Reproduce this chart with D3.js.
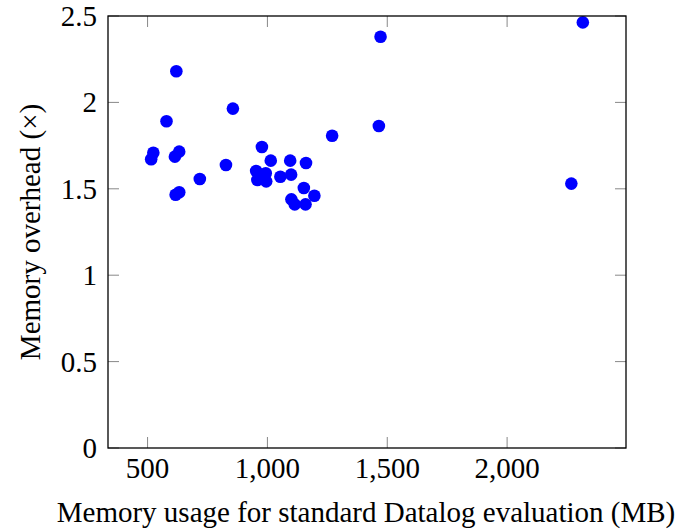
<!DOCTYPE html>
<html>
<head>
<meta charset="utf-8">
<script src="https://cdn.jsdelivr.net/npm/d3@7"></script>
<style>
  html, body { margin: 0; padding: 0; background: #fff; }
  svg text { font-family: "Liberation Serif", "DejaVu Serif", serif; fill: #000; }
</style>
</head>
<body>
<svg id="chart" width="678" height="530"></svg>
<script>
// Memory usage of standard evaluation (MB) vs. memory overhead factor
const memoryMB = [620, 856, 579, 977, 524, 515, 632, 614, 1014, 1095, 827, 718,
                  953, 993, 958, 995, 1054, 1099, 632, 617, 1100, 1114, 1270, 1161,
                  1152, 1196, 1159, 2316, 1472, 1465, 2268];
const overhead = [2.18, 1.964, 1.891, 1.742, 1.709, 1.671, 1.715, 1.686, 1.663, 1.663, 1.638, 1.557,
                  1.603, 1.590, 1.551, 1.543, 1.570, 1.582, 1.480, 1.466, 1.439, 1.410, 1.807, 1.649,
                  1.505, 1.460, 1.410, 2.463, 2.380, 1.863, 1.530];
const xTicks = [500, 1000, 1500, 2000];
const yTicks = [0, 0.5, 1, 1.5, 2, 2.5];
const xTitle = "Memory usage for standard Datalog evaluation (MB)";
const yTitle = "Memory overhead (\u00D7)";

const svg = d3.select("#chart");
const plotL = 108, plotR = 626, plotT = 16, plotB = 448;

// x range padded by 10% of the data span on each side
const [xmin, xmax] = d3.extent(memoryMB);
const pad = (xmax - xmin) * 0.1;
const x = d3.scaleLinear().domain([xmin - pad, xmax + pad]).range([plotL, plotR]);
const y = d3.scaleLinear().domain([0, 2.5]).range([plotB, plotT]);

const fmt = d3.format(",");
const tickLen = 11;

// inner ticks on all four sides
const tickColor = "#888";
const g = svg.append("g");
g.append("g").selectAll("line").data(xTicks).join("line")
  .attr("x1", d => x(d)).attr("x2", d => x(d))
  .attr("y1", plotB).attr("y2", plotB - tickLen)
  .attr("stroke", tickColor).attr("stroke-width", 1);
g.append("g").selectAll("line").data(xTicks).join("line")
  .attr("x1", d => x(d)).attr("x2", d => x(d))
  .attr("y1", plotT).attr("y2", plotT + tickLen)
  .attr("stroke", tickColor).attr("stroke-width", 1);
g.append("g").selectAll("line").data(yTicks).join("line")
  .attr("x1", plotL).attr("x2", plotL + tickLen)
  .attr("y1", d => y(d)).attr("y2", d => y(d))
  .attr("stroke", tickColor).attr("stroke-width", 1);
g.append("g").selectAll("line").data(yTicks).join("line")
  .attr("x1", plotR).attr("x2", plotR - tickLen)
  .attr("y1", d => y(d)).attr("y2", d => y(d))
  .attr("stroke", tickColor).attr("stroke-width", 1);

// tick labels
svg.append("g").selectAll("text").data(xTicks).join("text")
  .attr("x", d => x(d)).attr("y", plotB + 30)
  .attr("text-anchor", "middle").attr("font-size", 29)
  .text(d => fmt(d));
svg.append("g").selectAll("text").data(yTicks).join("text")
  .attr("x", plotL - 11).attr("y", d => y(d) + 10)
  .attr("text-anchor", "end").attr("font-size", 29)
  .text(d => d3.format("")(d));

// points
svg.append("g").selectAll("circle").data(memoryMB).join("circle")
  .attr("cx", d => x(d)).attr("cy", (d, i) => y(overhead[i]))
  .attr("r", 6.3).attr("fill", "#0000ff");

// frame
svg.append("rect")
  .attr("x", plotL).attr("y", plotT)
  .attr("width", plotR - plotL).attr("height", plotB - plotT)
  .attr("fill", "none").attr("stroke", "#000").attr("stroke-width", 1.3);

// axis titles
svg.append("text")
  .attr("x", 366).attr("y", 522)
  .attr("text-anchor", "middle").attr("font-size", 29)
  .text(xTitle);
svg.append("text")
  .attr("transform", "translate(40,232) rotate(-90)")
  .attr("text-anchor", "middle").attr("font-size", 29)
  .text(yTitle);
</script>
</body>
</html>
